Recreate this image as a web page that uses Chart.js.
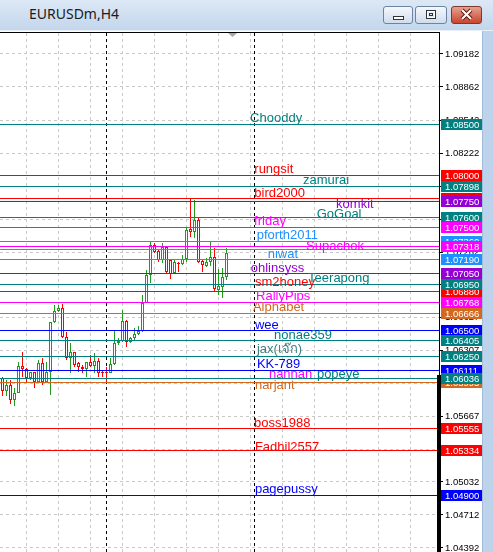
<!DOCTYPE html>
<html><head><meta charset="utf-8">
<script src="https://cdn.jsdelivr.net/npm/chart.js@4.4.1/dist/chart.umd.min.js"></script>
<style>
html,body{margin:0;padding:0;width:493px;height:552px;overflow:hidden;background:#fff;}
#c{position:absolute;left:0;top:0;}
#tb{position:absolute;left:0;top:0;width:493px;height:31px;background:linear-gradient(#dce8f5,#c3d6ec);box-sizing:border-box;border-bottom:1px solid #e9f0f8;}
#tt{position:absolute;left:29px;top:4px;font:14px "Noto Sans";color:#1b1b1b;}
.btn{position:absolute;top:6px;height:18px;border:1px solid #6b84a4;border-radius:3px;box-sizing:border-box;background:linear-gradient(#f4f7fb,#d0ddee);}
.btn svg{position:absolute;left:0;top:0;}
#cls{background:linear-gradient(#e7a08f,#c8462f);border-color:#7a3a30;}
#frame{position:absolute;left:482px;top:31px;width:11px;height:521px;background:#bdd3eb;border-left:1px solid #a3bcd8;box-sizing:border-box;}
</style></head>
<body>
<canvas id="c" width="493" height="552"></canvas>
<div id="tb"><div id="tt">EURUSDm,H4</div>
<div class="btn" style="left:383px;width:30px"><svg width="28" height="16"><rect x="9.5" y="9.5" width="10" height="3" fill="#fff" stroke="#333"/></svg></div>
<div class="btn" style="left:415px;width:32px"><svg width="30" height="16"><rect x="10.5" y="3.5" width="9" height="8" fill="none" stroke="#333"/><rect x="11.5" y="4.5" width="7" height="6" fill="none" stroke="#fff"/><rect x="13.5" y="6.5" width="3" height="2" fill="none" stroke="#333"/></svg></div>
<div class="btn" id="cls" style="left:451px;width:31px"><svg width="29" height="16"><path d="M10 3 L19 12 M19 3 L10 12" stroke="#5a1a10" stroke-width="4"/><path d="M10 3 L19 12 M19 3 L10 12" stroke="#fff" stroke-width="2"/></svg></div>
</div>
<div id="frame"></div>
<script>
// ---- candle data (EURUSDm H4) ----
const openP  = [1.06043,1.05911,1.05972,1.05827,1.05892,1.06160,1.06124,1.06037,1.06095,1.06005,1.06182,1.06005,1.06095,1.06580,1.06693,1.06716,1.06435,1.06237,1.06289,1.06182,1.06144,1.06124,1.06192,1.06160,1.06208,1.06102,1.06102,1.06085,1.06173,1.06376,1.06399,1.06590,1.06393,1.06425,1.06467,1.06496,1.06771,1.07042,1.07330,1.07275,1.07184,1.07307,1.07184,1.07055,1.07159,1.07146,1.07197,1.07482,1.07453,1.07572,1.07175,1.07129,1.07162,1.07213,1.06893,1.06926,1.07016];
const highP  = [1.06053,1.06021,1.06021,1.05940,1.06199,1.06292,1.06134,1.06102,1.06102,1.06215,1.06231,1.06199,1.06586,1.06748,1.06748,1.06758,1.06489,1.06376,1.06296,1.06199,1.06166,1.06199,1.06263,1.06286,1.06231,1.06111,1.06150,1.06231,1.06496,1.06425,1.06700,1.06603,1.06441,1.06522,1.06544,1.06845,1.07087,1.07362,1.07346,1.07281,1.07352,1.07320,1.07191,1.07191,1.07168,1.07233,1.07491,1.07782,1.07766,1.07588,1.07184,1.07200,1.07368,1.07297,1.07094,1.07104,1.07297];
const lowP   = [1.05866,1.05866,1.05788,1.05772,1.05892,1.06053,1.06005,1.06021,1.05940,1.06005,1.05972,1.06005,1.05875,1.06570,1.06683,1.06425,1.06215,1.06085,1.06150,1.06102,1.06092,1.06047,1.06150,1.06085,1.06053,1.06053,1.06005,1.06085,1.06166,1.06360,1.06393,1.06344,1.06376,1.06409,1.06457,1.06489,1.06764,1.06958,1.07255,1.07168,1.07152,1.07055,1.06997,1.07049,1.07071,1.07136,1.07168,1.07411,1.07394,1.07159,1.07065,1.07113,1.07126,1.06877,1.06845,1.06813,1.06990];
const closeP = [1.05911,1.05972,1.05827,1.05892,1.06160,1.06124,1.06043,1.06095,1.06005,1.06182,1.06005,1.06095,1.06580,1.06693,1.06716,1.06435,1.06237,1.06289,1.06166,1.06144,1.06124,1.06192,1.06160,1.06208,1.06092,1.06092,1.06085,1.06173,1.06376,1.06399,1.06590,1.06393,1.06425,1.06467,1.06496,1.06771,1.07042,1.07330,1.07265,1.07184,1.07307,1.07071,1.07049,1.07165,1.07152,1.07197,1.07475,1.07453,1.07572,1.07168,1.07136,1.07168,1.07213,1.06900,1.06932,1.07023,1.07249];

// ---- price axis tick labels ----
const tickValues = [1.09182,1.08862,1.08542,1.08222,1.07902,1.07582,1.07262,1.06947,1.06627,1.06307,1.05987,1.05667,1.05347,1.05032,1.04712,1.04392];
// vertical grid positions (bar numbers)
const gridBars = [2,10,18,26,34,42,50,58,66,74,82,90,98,106];
// period separators (bar numbers)
const separatorBars = [26,63];

// ---- horizontal lines ----
const linePrices = [1.08500,1.08000,1.07898,1.07785,1.07750,1.07600,1.07500,1.07360,1.07318,1.07289,1.07190,1.07050,1.06880,1.06950,1.06768,1.06666,1.06500,1.06405,1.06250,1.06111,1.05995,1.06036,1.05555,1.05334,1.04900];
const lineBox    = [true,true,true,true,true,true,true,true,true,false,true,true,true,true,true,true,true,true,true,true,true,true,true,true,true];

// ---- text labels ----
const labelTexts  = ["Chooddy","rungsit","zamurai","bird2000","komkit","GoGoal","friday","pforth2011","Supachok","niwat","ohlinsyss","Teerapong","sm2honey","RallyPips","Alphabet","wee","nonae359","jax(เจ๊ก)","KK-789","nannan","popeye","narjant","boss1988","Fadhil2557","pagepussy"];
const labelPrices = [1.08518,1.08028,1.07917,1.07795,1.07689,1.07587,1.07524,1.07388,1.07286,1.07201,1.07068,1.06971,1.06935,1.06792,1.06690,1.06511,1.06419,1.06283,1.06137,1.06036,1.06036,1.05934,1.05570,1.05337,1.04925];
const labelBars   = [61.9,62.95,75.1,62.95,83.4,78.55,62.9,63.55,75.9,66.3,62.05,76.4,63.1,63.4,62.6,63.1,67.9,63.6,63.6,66.6,78.6,63.1,62.9,63.1,63.1];

// ---- styles ----
const TEAL='#008080', RED='#ff0000', VIO='#9400d3', MAG='#ff00ff', DBL='#1e90ff', CHO='#d2691e', BLU='#0000ff';
const lineColors  = [TEAL,RED,TEAL,RED,VIO,TEAL,MAG,DBL,MAG,CHO,DBL,VIO,RED,TEAL,MAG,CHO,BLU,TEAL,TEAL,BLU,CHO,TEAL,RED,RED,BLU];
const labelColors = [TEAL,RED,TEAL,RED,VIO,TEAL,MAG,DBL,MAG,DBL,VIO,TEAL,RED,MAG,CHO,BLU,TEAL,'#3f7f7f',BLU,MAG,TEAL,CHO,RED,RED,BLU];
const BULL='#229a1e', BEAR='#ff0000';
const X_MIN=-0.625, X_MAX=109.125, Y_MIN=1.043532, Y_MAX=1.093856;

const barX = openP.map((_, i) => i);
const candleColors = openP.map((o, i) => closeP[i] >= o ? BULL : BEAR);

const datasets = [];
linePrices.forEach((p, i) => datasets.push({
  type:'line', kind:'h', data:[{x:X_MIN,y:p},{x:X_MAX,y:p}],
  borderColor:lineColors[i], borderWidth:1, pointRadius:0, order:0, fill:false
}));
datasets.push({type:'bar', kind:'body', data: barX.map(i => ({x:i, y:[openP[i], closeP[i]]})),
  backgroundColor:'#ffffff', borderColor:candleColors, borderWidth:1, borderSkipped:false,
  grouped:false, barPercentage:0.75, categoryPercentage:1, order:2});
datasets.push({type:'bar', kind:'wick', data: barX.map(i => ({x:i, y:[lowP[i], highP[i]]})),
  backgroundColor:candleColors, borderWidth:0, grouped:false, barPercentage:0.25, categoryPercentage:1, order:3});
separatorBars.forEach(b => datasets.push({
  type:'line', kind:'v', data:[{x:b,y:Y_MAX},{x:b,y:Y_MIN}],
  borderColor:'#000', borderWidth:1, borderDash:[3,3], pointRadius:0, order:4, fill:false
}));

const snap = {
  id:'snap',
  afterDatasetsUpdate(chart){
    chart.data.datasets.forEach((ds, di) => {
      const meta = chart.getDatasetMeta(di);
      meta.data.forEach(el => {
        if (ds.kind === 'body' || ds.kind === 'wick') {
          let y = Math.round(el.y), b = Math.round(el.base);
          if (Math.abs(y - b) < 1) b = y + 1;
          el.y = y; el.base = b;
        } else if (ds.kind === 'h') {
          el.y = Math.floor(el.y) + 0.5;
        } else if (ds.kind === 'v') {
          el.x = Math.floor(el.x) + 0.5;
        }
      });
    });
  }
};

const deco = {
  id:'deco',
  afterDatasetsDraw(chart){
    const {ctx, chartArea:a, scales:{x, y}} = chart;
    ctx.save();
    ctx.beginPath(); ctx.rect(a.left, a.top, a.right - a.left, a.bottom - a.top); ctx.clip();
    ctx.font = '13px "Liberation Sans"';
    ctx.textBaseline = 'alphabetic'; ctx.textAlign = 'left';
    labelTexts.forEach((t, i) => {
      ctx.fillStyle = labelColors[i];
      ctx.fillText(t, x.getPixelForValue(labelBars[i]), Math.round(y.getPixelForValue(labelPrices[i])));
    });
    ctx.restore();
  },
  afterDraw(chart){
    const {ctx, chartArea:a, scales:{y}} = chart;
    ctx.save();
    // price boxes
    ctx.font = '9.5px "Liberation Sans"';
    ctx.textBaseline = 'alphabetic'; ctx.textAlign = 'left';
    linePrices.forEach((p, i) => {
      if (!lineBox[i]) return;
      const py = Math.floor(y.getPixelForValue(p));
      ctx.fillStyle = lineColors[i];
      ctx.fillRect(a.right + 2, py - 5, 41, 11);
      ctx.fillStyle = '#fff';
      ctx.fillText(p.toFixed(5), a.right + 6, py + 4);
    });
    // chart frame top line
    ctx.fillStyle = '#000';
    ctx.fillRect(0, a.top - 1, a.right + 1, 1);
    // heavy right edge
    ctx.fillRect(a.right - 2, 375, 4, a.bottom - 375);
    // chart shift marker
    ctx.fillStyle = '#a8a8a8';
    ctx.beginPath(); ctx.moveTo(228, a.top); ctx.lineTo(237, a.top); ctx.lineTo(232.5, a.top + 4); ctx.closePath(); ctx.fill();
    ctx.restore();
  }
};

new Chart(document.getElementById('c'), {
  type:'bar',
  data:{ datasets },
  options:{
    responsive:false, animation:false, events:[], devicePixelRatio:1,
    layout:{ padding:{ top:33, right:10, left:0, bottom:0 } },
    plugins:{ legend:{display:false}, tooltip:{enabled:false} },
    scales:{
      x:{ type:'linear', min:X_MIN, max:X_MAX, offset:false, position:'bottom',
        afterBuildTicks: s => { s.ticks = gridBars.map(v => ({value:v})); },
        afterFit: s => { s.height = 0; s.paddingLeft = 0; s.paddingRight = 0; },
        ticks:{ display:false },
        grid:{ color:'#c8c8c8', drawTicks:false, lineWidth:1 },
        border:{ display:false, dash:[3,3] } },
      y:{ type:'linear', position:'right', min:Y_MIN, max:Y_MAX,
        afterBuildTicks: s => { s.ticks = tickValues.map(v => ({value:v})); },
        afterFit: s => { s.width = 44; s.paddingTop = 0; s.paddingBottom = 0; },
        grid:{ color:'#c8c8c8', tickColor:'#000', tickLength:4, tickWidth:1, tickBorderDash:[], lineWidth:1 },
        border:{ display:true, color:'#000', width:1, dash:[3,3] },
        ticks:{ color:'#000', font:{ family:'Liberation Sans', size:9.5 }, padding:2, autoSkip:false,
          callback: v => Number(v).toFixed(5) } }
    }
  },
  plugins:[snap, deco]
});
</script>
</body></html>
